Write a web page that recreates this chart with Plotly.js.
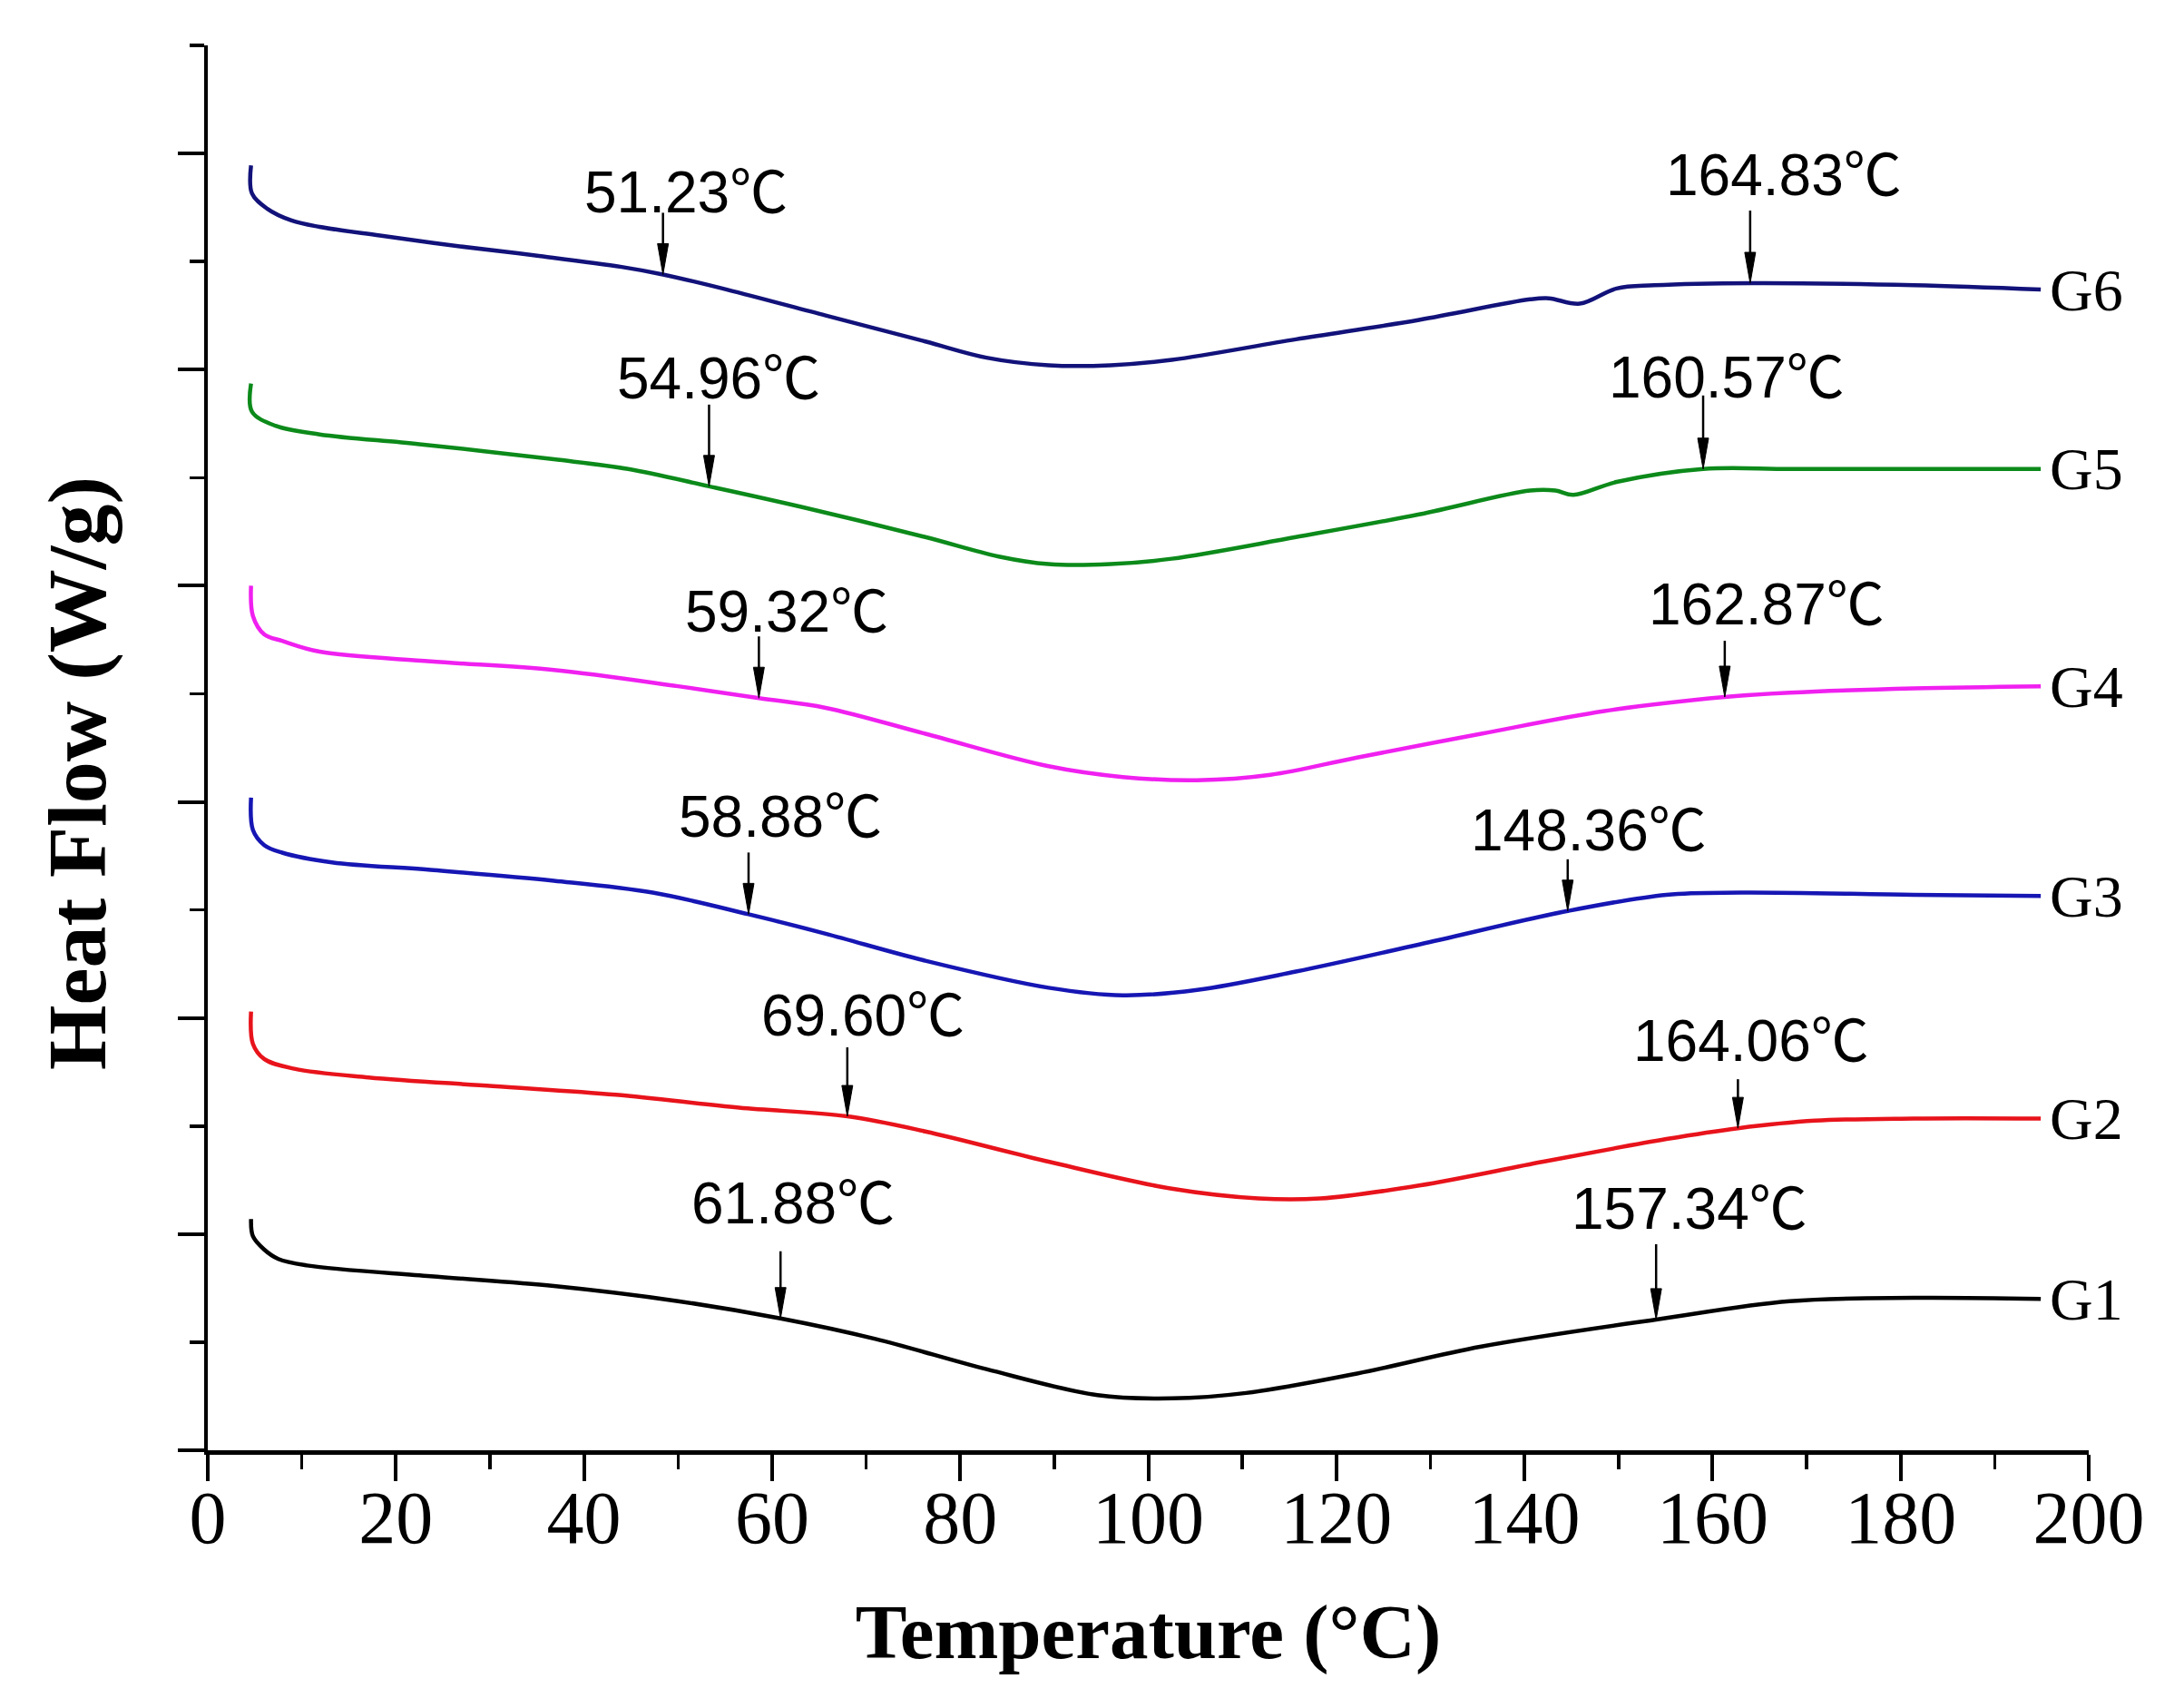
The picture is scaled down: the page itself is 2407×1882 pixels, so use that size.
<!DOCTYPE html>
<html>
<head>
<meta charset="utf-8">
<script src="https://cdn.plot.ly/plotly-3.0.1.min.js"></script>
<style>html,body{margin:0;padding:0;background:#fff;}#chart{width:2407px;height:1882px;}</style>
</head>
<body>
<div id="chart"></div>
<script>
// ---- data ----
var seriesNames = ["G1", "G2", "G3", "G4", "G5", "G6"];
var seriesColors = ["#000000", "#e8131b", "#1616b4", "#f020f0", "#0c8a1a", "#12127a"];

var g1T = [4.6, 4.8, 5.96, 7.5, 10.55, 23.7, 36.8, 50, 60.9, 71, 82.8, 94.6, 102.5, 110.4, 122.2, 135.4, 154, 168.2, 181.4, 194.9];
var g1H = [2.14, 1.98, 1.86, 1.77, 1.71, 1.61, 1.52, 1.38, 1.22, 1.03, 0.75, 0.51, 0.48, 0.53, 0.71, 0.96, 1.21, 1.38, 1.41, 1.40];

var g2T = [4.6, 4.8, 6.0, 9.2, 17.1, 30.3, 43.4, 56.5, 68, 76.3, 89.4, 102.5, 111.7, 118.3, 128.8, 142, 155.1, 162.7, 170.9, 181.4, 194.9];
var g2H = [4.06, 3.76, 3.62, 3.53, 3.45, 3.37, 3.29, 3.17, 3.09, 2.95, 2.67, 2.42, 2.33, 2.33, 2.45, 2.67, 2.88, 2.98, 3.05, 3.07, 3.07];

var g3T = [4.6, 4.8, 6.0, 7.9, 13.2, 23.7, 36.8, 47.3, 57.5, 65.7, 76.3, 89.4, 97.3, 105.2, 115.7, 128.8, 144.6, 155.1, 163, 181.4, 194.9];
var g3H = [6.04, 5.74, 5.60, 5.53, 5.44, 5.37, 5.27, 5.16, 4.96, 4.78, 4.53, 4.28, 4.21, 4.26, 4.43, 4.68, 4.99, 5.14, 5.16, 5.14, 5.13];

var g4T = [4.6, 4.8, 6.0, 7.9, 11.9, 23.7, 36.8, 50, 58.6, 65.7, 76.3, 89.4, 97.3, 105.2, 113, 122.2, 135.4, 148.5, 161.3, 168.2, 181.4, 194.9];
var g4H = [8.00, 7.72, 7.55, 7.49, 7.39, 7.30, 7.22, 7.07, 6.96, 6.87, 6.63, 6.33, 6.23, 6.20, 6.25, 6.41, 6.63, 6.84, 6.97, 7.01, 7.05, 7.07];

var g5T = [4.6, 4.7, 7.2, 11.9, 22.5, 36.8, 44.7, 53.3, 63.1, 76.3, 84.1, 89.4, 96, 102.5, 115.7, 128.8, 140.6, 143.3, 145.2, 149.8, 159, 168.2, 181.4, 194.9];
var g5H = [9.87, 9.61, 9.48, 9.40, 9.31, 9.17, 9.08, 8.92, 8.73, 8.45, 8.27, 8.20, 8.20, 8.25, 8.45, 8.66, 8.88, 8.88, 8.84, 8.96, 9.08, 9.08, 9.08, 9.08];

var g6T = [4.6, 4.7, 6.3, 8.9, 11.9, 18.3, 26.8, 35.4, 44, 48.4, 55.2, 65.7, 76.3, 82.8, 89.4, 96, 102.5, 115.7, 128.8, 140.6, 142.6, 145.9, 149.8, 153.8, 164.3, 181.4, 194.9];
var g6H = [11.89, 11.63, 11.49, 11.38, 11.32, 11.24, 11.14, 11.05, 10.95, 10.88, 10.74, 10.50, 10.26, 10.11, 10.04, 10.04, 10.09, 10.28, 10.46, 10.65, 10.66, 10.61, 10.75, 10.78, 10.80, 10.78, 10.74];

// marked transition temperatures (label text) and where the arrows point on the curve
var markLabels = [["61.88℃", "157.34℃"], ["69.60℃", "164.06℃"], ["58.88℃", "148.36℃"],
                  ["59.32℃", "162.87℃"], ["54.96℃", "160.57℃"], ["51.23℃", "164.83℃"]];
var markT = [[60.9, 154.0], [68.0, 162.7], [57.5, 144.6], [58.6, 161.3], [53.3, 159.0], [48.4, 164.0]];

var xTickVals = [0, 20, 40, 60, 80, 100, 120, 140, 160, 180, 200];
var xTitle = "Temperature (°C)";
var yTitle = "Heat Flow (W/g)";

// ---- drawing geometry (pixels) ----
var arrowLen = [[74, 83], [76, 54], [68, 57], [68, 62], [90, 81], [68, 80]];
var textRise = [[127, 122], [111, 96], [107, 89], [95, 102], [119, 101], [90, 119]];
var textDx = [[14, 37], [17, 15], [35, 23], [31, 46], [11, 26], [25, 37]];

var allT = [g1T, g2T, g3T, g4T, g5T, g6T];
var allH = [g1H, g2H, g3H, g4H, g5H, g6H];

function interp(xs, ys, x) {
  for (var i = 0; i < xs.length - 1; i++) {
    if (x >= xs[i] && x <= xs[i + 1]) {
      var f = (x - xs[i]) / (xs[i + 1] - xs[i]);
      return ys[i] + f * (ys[i + 1] - ys[i]);
    }
  }
  return ys[ys.length - 1];
}

var traces = [];
var annotations = [];
var shapes = [];
for (var s = 0; s < 6; s++) {
  traces.push({
    type: "scatter", mode: "lines", name: seriesNames[s],
    x: allT[s], y: allH[s],
    line: {color: seriesColors[s], width: 4.5, shape: "spline", smoothing: 1.0},
    hoverinfo: "skip", showlegend: false
  });
  var n = allT[s].length;
  annotations.push({
    x: allT[s][n - 1], y: allH[s][n - 1], xref: "x", yref: "y",
    text: seriesNames[s], showarrow: false, xanchor: "left", yanchor: "middle", xshift: 8,
    font: {family: "Liberation Serif, Times New Roman, serif", size: 66, color: "#000"}
  });
  for (var k = 0; k < 2; k++) {
    var tx = markT[s][k];
    var ty = interp(allT[s], allH[s], tx);
    var L = arrowLen[s][k];
    shapes.push({
      type: "line", xref: "x", yref: "y", xsizemode: "pixel", ysizemode: "pixel",
      xanchor: tx, yanchor: ty, x0: 0, x1: 0, y0: 30, y1: L,
      line: {color: "#000", width: 2.5}
    });
    shapes.push({
      type: "path", xref: "x", yref: "y", xsizemode: "pixel", ysizemode: "pixel",
      xanchor: tx, yanchor: ty, path: "M-6,34 L6,34 L0,0 Z",
      fillcolor: "#000", line: {color: "#000", width: 1}
    });
    annotations.push({
      x: tx, y: ty, xref: "x", yref: "y", text: markLabels[s][k], showarrow: false,
      xanchor: "center", yanchor: "middle", xshift: textDx[s][k], yshift: textRise[s][k],
      font: {family: "Liberation Sans, Arial, Noto Sans CJK SC, sans-serif", size: 64, color: "#000"}
    });
  }
}

// y-axis title (placed as a rotated annotation to match the reference position)
annotations.push({
  xref: "paper", yref: "paper", x: 0, y: 0.5, xshift: -144, yshift: -28,
  text: yTitle, showarrow: false, textangle: -90, xanchor: "center", yanchor: "middle",
  font: {family: "Liberation Serif, Times New Roman, serif", size: 92, color: "#000", weight: "bold"}
});

var layout = {
  width: 2407, height: 1882,
  paper_bgcolor: "#fff", plot_bgcolor: "#fff",
  margin: {l: 229, r: 105, t: 50, b: 284, pad: 0},
  showlegend: false,
  xaxis: {
    range: [0, 200], tickmode: "array", tickvals: xTickVals,
    ticks: "outside", ticklen: 29, tickwidth: 4, tickcolor: "#000",
    minor: {dtick: 10, tick0: 0, ticks: "outside", ticklen: 16, tickwidth: 3.5, tickcolor: "#000", showgrid: false},
    showline: true, linewidth: 4.5, linecolor: "#000", mirror: false,
    showgrid: false, zeroline: false,
    tickfont: {family: "Liberation Serif, Times New Roman, serif", size: 82, color: "#000"},
    ticklabelstandoff: -30,
    title: {text: xTitle, standoff: 52,
            font: {family: "Liberation Serif, Times New Roman, serif", size: 85, color: "#000", weight: "bold"}}
  },
  yaxis: {
    range: [0, 13], tick0: 0, dtick: 2,
    ticks: "outside", ticklen: 29, tickwidth: 4, tickcolor: "#000",
    minor: {dtick: 1, tick0: 0, ticks: "outside", ticklen: 16, tickwidth: 3.5, tickcolor: "#000", showgrid: false},
    showline: true, linewidth: 4.5, linecolor: "#000", mirror: false,
    showgrid: false, zeroline: false, showticklabels: false
  },
  annotations: annotations,
  shapes: shapes
};

Plotly.newPlot("chart", traces, layout, {displayModeBar: false, staticPlot: true});
</script>
</body>
</html>
